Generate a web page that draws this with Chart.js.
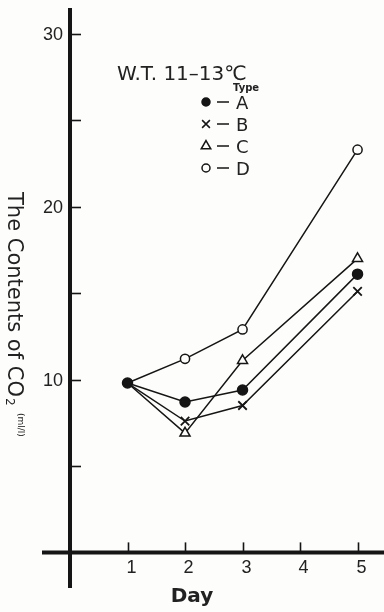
<!DOCTYPE html>
<html>
<head>
<meta charset="utf-8">
<script src="https://cdn.jsdelivr.net/npm/chart.js@4/dist/chart.umd.min.js"></script>
<style>
  html, body { margin: 0; padding: 0; background: #fdfdfb; }
  canvas { display: block; }
</style>
</head>
<body>
<canvas id="graficoCO2" width="384" height="612"></canvas>
<script>
// datos
const days = [1, 2, 3, 5];
const typeA = [9.8, 8.7, 9.4, 16.1];
const typeB = [9.8, 7.6, 8.5, 15.1];
const typeC = [9.8, 6.9, 11.1, 17.0];
const typeD = [9.8, 11.2, 12.9, 23.3];
const typeNames = ["A", "B", "C", "D"];
const xTicks = [1, 2, 3, 4, 5];
const yTicks = [5, 10, 15, 20, 25, 30];
const yLabels = [10, 20, 30];

const ink = "#151515";
const toPoints = values => days.map((d, i) => ({ x: d, y: values[i] }));
const hideFirst = r => ctx => (ctx.dataIndex === 0 ? 0 : r);

const series = [
  { name: typeNames[0], values: typeA, style: "circle", radius: 5, fill: ink, legendRadius: 4 },
  { name: typeNames[1], values: typeB, style: "crossRot", radius: 6, fill: ink, legendRadius: 5.5 },
  { name: typeNames[2], values: typeC, style: "triangle", radius: 5.8, fill: "#fdfdfb", legendRadius: 5.5 },
  { name: typeNames[3], values: typeD, style: "circle", radius: 4.6, fill: "#fdfdfb", legendRadius: 4 }
];

// ejes cruzados, ticks, titulos y leyenda
const ejesPlugin = {
  id: "ejes",
  beforeDatasetsDraw(chart) {
    const { ctx } = chart;
    const x = chart.scales.x;
    const y = chart.scales.y;
    const x0 = x.getPixelForValue(0);
    const y0 = y.getPixelForValue(0);

    ctx.save();
    ctx.strokeStyle = ink;
    ctx.fillStyle = "#222";

    // lineas de ejes
    ctx.lineWidth = 4;
    ctx.beginPath();
    ctx.moveTo(x0, chart.chartArea.top);
    ctx.lineTo(x0, chart.chartArea.bottom);
    ctx.moveTo(chart.chartArea.left, y0);
    ctx.lineTo(chart.chartArea.right, y0);
    ctx.stroke();

    // ticks eje y
    ctx.lineWidth = 1.6;
    ctx.font = "18px 'Liberation Sans'";
    ctx.textAlign = "right";
    ctx.textBaseline = "middle";
    yTicks.forEach(v => {
      const py = Math.round(y.getPixelForValue(v)) + 0.5;
      ctx.beginPath();
      ctx.moveTo(x0, py);
      ctx.lineTo(x0 + 11, py);
      ctx.stroke();
      if (yLabels.includes(v)) ctx.fillText(String(v), x0 - 7, py + 1);
    });

    // ticks eje x
    ctx.textAlign = "center";
    xTicks.forEach(v => {
      const px = Math.round(x.getPixelForValue(v)) + 0.5;
      ctx.beginPath();
      ctx.moveTo(px, y0);
      ctx.lineTo(px, y0 - 10);
      ctx.stroke();
      ctx.fillText(String(v), px + 3, y0 + 16);
    });

    // titulo x
    ctx.font = "bold 20px 'DejaVu Sans'";
    ctx.fillText("Day", 192, 597);

    // titulo y (girado)
    ctx.translate(8, 192);
    ctx.rotate(Math.PI / 2);
    ctx.textAlign = "left";
    ctx.textBaseline = "alphabetic";
    ctx.font = "21px 'DejaVu Sans'";
    const main = "The Contents of CO";
    ctx.fillText(main, 0, 0);
    const w = ctx.measureText(main).width;
    ctx.font = "12px 'DejaVu Sans'";
    ctx.fillText("2", w + 1, 2);
    ctx.font = "9px 'DejaVu Sans'";
    ctx.fillText("(ml/l)", w + 16, -10);
    ctx.restore();
  },
  afterDraw(chart) {
    const { ctx } = chart;
    ctx.save();
    ctx.fillStyle = "#222";
    ctx.strokeStyle = ink;
    ctx.textAlign = "left";
    ctx.textBaseline = "alphabetic";
    ctx.font = "20px 'DejaVu Sans'";
    ctx.fillText("W.T. 11–13℃", 117, 80);
    ctx.font = "bold 10px 'DejaVu Sans'";
    ctx.fillText("Type", 233, 91);

    ctx.font = "18px 'DejaVu Sans'";
    series.forEach((s, i) => {
      const ry = 102 + i * 22;
      ctx.lineWidth = 1.5;
      ctx.fillStyle = s.fill;
      Chart.helpers.drawPoint(ctx, { pointStyle: s.style, radius: s.legendRadius, rotation: 0, borderWidth: 1.5 }, 206, ry);
      ctx.beginPath();
      ctx.moveTo(217, ry);
      ctx.lineTo(229, ry);
      ctx.stroke();
      ctx.fillStyle = "#222";
      ctx.fillText(s.name, 236, ry + 6.5);
    });
    ctx.restore();
  }
};

new Chart(document.getElementById("graficoCO2").getContext("2d"), {
  type: "line",
  data: {
    datasets: series.map((s, i) => ({
      label: s.name,
      data: toPoints(s.values),
      borderColor: ink,
      borderWidth: 1.5,
      tension: 0,
      pointStyle: s.style,
      pointRadius: i === 0 ? s.radius : hideFirst(s.radius),
      pointBackgroundColor: s.fill,
      pointBorderColor: ink,
      pointBorderWidth: s.style === "crossRot" ? 1.8 : 1.5
    }))
  },
  options: {
    responsive: false,
    animation: false,
    devicePixelRatio: 1,
    layout: { autoPadding: false, padding: { left: 42, right: 0, top: 8, bottom: 24 } },
    scales: {
      x: { type: "linear", min: -0.487, max: 5.46, display: false },
      y: { type: "linear", min: -2.06, max: 31.5, display: false }
    },
    plugins: {
      legend: { display: false },
      tooltip: { enabled: false }
    }
  },
  plugins: [ejesPlugin]
});
</script>
</body>
</html>
